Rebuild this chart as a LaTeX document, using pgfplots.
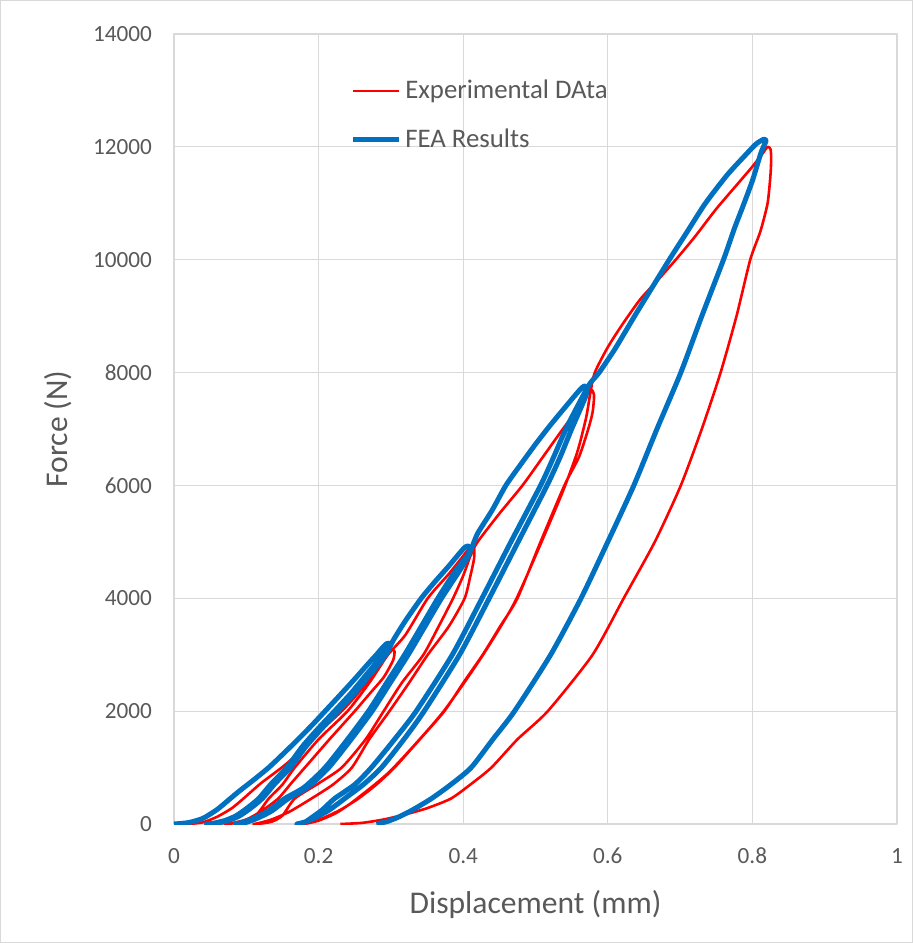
\documentclass[border=0pt]{standalone}
\usepackage{pgfplots}
\pgfplotsset{compat=1.18}
\usepackage{fontspec}
\setmainfont{Carlito}
\definecolor{fea}{RGB}{0,112,192}
\definecolor{exp}{RGB}{255,0,0}
\definecolor{txt}{RGB}{89,89,89}
\definecolor{gridc}{RGB}{217,217,217}
\begin{document}
\begin{tikzpicture}
\useasboundingbox (-87pt,-59.5pt) rectangle (369.5pt,412pt);
\draw[gridc, line width=0.6pt] (-86.6pt,-59.1pt) rectangle (369.1pt,411.6pt);
\begin{axis}[
  scale only axis, width=361.5pt, height=395pt,
  xmin=0, xmax=1, ymin=0, ymax=14000,
  xtick={0,0.2,0.4,0.6,0.8,1},
  ytick={0,2000,4000,6000,8000,10000,12000,14000},
  scaled y ticks=false, scaled x ticks=false,
  grid=major, major grid style={draw=gridc, line width=0.6pt},
  axis line style={draw=gridc, line width=0.6pt},
  major tick length=0pt,
  /pgf/number format/assume math mode=true,
  /pgf/number format/1000 sep={},
  yticklabel style={/pgf/number format/fixed, xshift=-7.5pt},
  ticklabel style={font=\fontsize{11.6}{13}\selectfont, text=txt},
  xticklabel style={yshift=-8.5pt},
  xlabel={Displacement (mm)}, ylabel={Force (N)},
  label style={font=\fontsize{15.8}{18}\selectfont, text=txt},
  xlabel style={at={(axis description cs:0.5,-0.1025)}, anchor=center},
  ylabel style={at={(axis description cs:-0.16,0.5)}, anchor=center},
  legend style={at={(rel axis cs:0.235,0.952)}, anchor=north west, draw=none, fill=none,
    font=\fontsize{13.4}{16}\selectfont, text=txt, row sep=9.5pt},
  legend cell align=left,
  legend image code/.code={\draw[#1] (0pt,0pt) -- (23pt,0pt);},
  line join=round,
]
\addplot[exp, line width=1.3pt, smooth, tension=0.4] coordinates {
(0.02,0) (0.04,30) (0.06,130) (0.08,280) (0.096,450) (0.12,720) (0.149,1000) (0.17,1230) (0.19,1500) (0.21,1740) (0.232,2000) (0.25,2250) (0.27,2580) (0.285,2820) (0.296,3020) (0.301,3090) (0.305,3060)
(0.303,2900) (0.29,2600) (0.27,2300) (0.25,2000) (0.215,1500) (0.181,1000) (0.162,720) (0.144,450) (0.12,220) (0.10,80) (0.08,15) (0.07,0)
(0.075,0) (0.095,50) (0.115,180) (0.131,450) (0.15,700) (0.167,1000) (0.20,1500) (0.24,2000) (0.27,2500) (0.296,3000) (0.32,3350) (0.351,4000) (0.38,4430) (0.40,4750) (0.41,4910) (0.415,4900)
(0.415,4700) (0.41,4400) (0.402,4000) (0.38,3500) (0.351,3000) (0.325,2500) (0.298,2000) (0.27,1500) (0.246,1000) (0.22,700) (0.19,450) (0.16,220) (0.135,80) (0.115,10) (0.11,0)
(0.115,0) (0.135,40) (0.15,150) (0.167,450) (0.20,720) (0.232,1000) (0.265,1500) (0.29,2000) (0.315,2500) (0.345,3000) (0.366,3500) (0.386,4000) (0.40,4400) (0.41,4750) (0.42,5000) (0.45,5500) (0.482,6000) (0.51,6500) (0.535,6950) (0.555,7300) (0.57,7600) (0.577,7700)
(0.581,7600) (0.579,7300) (0.573,7000) (0.56,6500) (0.54,6000) (0.507,5000) (0.475,4000) (0.451,3500) (0.427,3000) (0.40,2500) (0.374,2000) (0.34,1500) (0.305,1000) (0.28,700) (0.255,450) (0.23,250) (0.205,100) (0.185,20) (0.175,0)
(0.18,0) (0.20,60) (0.225,200) (0.25,420) (0.30,950) (0.37,1950) (0.425,2950) (0.47,3900) (0.505,4900) (0.538,5900) (0.558,6600) (0.57,7200) (0.576,7650) (0.582,8000) (0.60,8450) (0.62,8850) (0.645,9300) (0.67,9650) (0.694,10000) (0.72,10400) (0.75,10900) (0.78,11350) (0.80,11650) (0.814,11880) (0.821,12000) (0.825,11960) (0.826,11800)
(0.825,11500) (0.821,11000) (0.811,10500) (0.797,10000) (0.778,9000) (0.756,8000) (0.73,7000) (0.701,6000) (0.665,5000) (0.622,4000) (0.579,3000) (0.517,2000) (0.475,1500) (0.439,1000) (0.41,700) (0.383,450) (0.35,280) (0.32,170) (0.29,80) (0.26,20) (0.23,0)
};
\addlegendentry{Experimental DAta}
\addplot[fea, line width=2.5pt, smooth, tension=0.4] coordinates {
(0,0) (0.02,25) (0.04,100) (0.06,260) (0.075,420) (0.09,580) (0.11,780) (0.131,1000) (0.15,1230) (0.17,1480) (0.19,1740) (0.209,2000) (0.23,2290) (0.25,2570) (0.27,2860) (0.28,3000) (0.288,3120) (0.294,3195) (0.298,3200)
(0.296,3120) (0.29,3020) (0.28,2860) (0.265,2630) (0.245,2320) (0.222,2000) (0.20,1700) (0.178,1380) (0.156,1000) (0.135,720) (0.117,450) (0.10,270) (0.085,140) (0.07,60) (0.055,15) (0.045,0)
(0.05,0) (0.06,15) (0.075,60) (0.09,140) (0.105,270) (0.122,450) (0.14,720) (0.161,1000) (0.183,1380) (0.205,1700) (0.227,2000) (0.25,2320) (0.27,2630) (0.285,2860) (0.295,3040) (0.303,3250) (0.32,3600) (0.342,4000) (0.36,4280) (0.38,4570) (0.395,4800) (0.403,4910) (0.408,4920)
(0.407,4780) (0.39,4500) (0.365,4000) (0.342,3500) (0.319,3000) (0.294,2500) (0.269,2000) (0.24,1500) (0.209,1000) (0.18,650) (0.153,450) (0.13,230) (0.11,100) (0.095,30) (0.085,0)
(0.09,0) (0.10,30) (0.115,100) (0.135,230) (0.158,450) (0.185,650) (0.214,1000) (0.245,1500) (0.274,2000) (0.299,2500) (0.324,3000) (0.347,3500) (0.37,4000) (0.393,4450) (0.405,4700) (0.412,4900) (0.42,5150) (0.44,5560) (0.459,6000) (0.48,6380) (0.50,6730) (0.52,7060) (0.54,7370) (0.555,7600) (0.564,7730) (0.569,7760)
(0.57,7600) (0.55,7000) (0.534,6500) (0.516,6000) (0.476,5000) (0.436,4000) (0.395,3000) (0.346,2000) (0.318,1500) (0.287,1000) (0.262,700) (0.236,450) (0.215,250) (0.195,110) (0.18,30) (0.17,0)
(0.182,40) (0.19,110) (0.205,250) (0.222,450) (0.25,700) (0.273,1000) (0.305,1500) (0.335,2000) (0.385,3000) (0.426,4000) (0.466,5000) (0.507,6000) (0.525,6500) (0.542,7000) (0.56,7450) (0.575,7800) (0.588,8000) (0.61,8420) (0.637,9000) (0.66,9480) (0.685,10000) (0.71,10500) (0.735,11000) (0.765,11500) (0.79,11850) (0.805,12050) (0.815,12130) (0.819,12110)
(0.812,11900) (0.80,11400) (0.787,10950) (0.775,10550) (0.760,10000) (0.73,9000) (0.701,8000) (0.668,7000) (0.636,6000) (0.60,5000) (0.563,4000) (0.521,3000) (0.471,2000) (0.441,1500) (0.411,1000) (0.383,700) (0.356,450) (0.33,250) (0.31,120) (0.295,45) (0.28,0)
};
\addlegendentry{FEA Results}
\end{axis}
\end{tikzpicture}
\end{document}
